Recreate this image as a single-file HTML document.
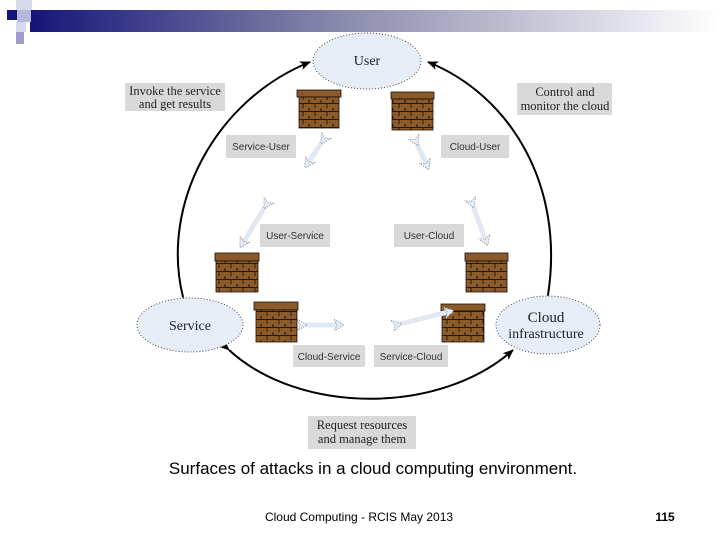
<!DOCTYPE html>
<html><head><style>
body{margin:0;width:720px;height:540px;overflow:hidden;background:#fff}
svg{display:block}
.s{font-family:"Liberation Serif",serif;fill:#222}
.a{font-family:"Liberation Sans",sans-serif;fill:#333}
</style></head><body>
<svg width="720" height="540" viewBox="0 0 720 540" xmlns="http://www.w3.org/2000/svg">
<defs>
<linearGradient id="g" x1="0" x2="1"><stop offset="0" stop-color="#15157a"/><stop offset="0.45" stop-color="#8a8aac"/><stop offset="1" stop-color="#ffffff"/></linearGradient>
<marker id="ar" markerWidth="11" markerHeight="9" refX="10" refY="4.5" orient="auto" markerUnits="userSpaceOnUse"><path d="M0,0 L11,4.5 L0,9 L3,4.5z" fill="#000"/></marker>
<marker id="ha" markerWidth="12" markerHeight="12" refX="8" refY="6" orient="auto" markerUnits="userSpaceOnUse"><path d="M0,0 L10,6 L0,12 L3,6z" fill="#e4ecf6" stroke="#777" stroke-width="0.8" stroke-dasharray="1 1.5"/></marker>
<pattern id="br" width="12" height="8" patternUnits="userSpaceOnUse"><rect width="12" height="8" fill="#8b5a2b"/><path d="M0,7.5H12M3,0V4M9,4V8" stroke="#2a1a0a" stroke-width="1"/></pattern>
</defs>
<rect x="30" y="10" width="690" height="22" fill="url(#g)"/>
<rect x="16" y="0" width="16" height="10" fill="#d8d8ec"/>
<rect x="7" y="10" width="10" height="10" fill="#14147a"/>
<rect x="17" y="10" width="14" height="12" fill="#b8b8da"/>
<rect x="16" y="22" width="10" height="10" fill="#d8d8ec"/>
<rect x="16" y="32" width="8" height="12" fill="#9e9ecc"/>

<g fill="none" stroke="#000" stroke-width="2">
<path d="M183,297 C160,205 215,100 310,62" marker-end="url(#ar)" marker-start="url(#ar)"/>
<path d="M548,295 C565,185 510,95 428,62" marker-end="url(#ar)" marker-start="url(#ar)"/>
<path d="M229,350 C300,415 440,415 513,350" marker-end="url(#ar)" marker-start="url(#ar)"/>
</g>

<g fill="#e6edf7" stroke="#444" stroke-width="1" stroke-dasharray="1 2">
<ellipse cx="367" cy="61" rx="54" ry="28"/>
<ellipse cx="190" cy="325" rx="53" ry="27"/>
<ellipse cx="548" cy="325" rx="52" ry="29"/>
</g>
<text x="367" y="65" class="s" font-size="14" text-anchor="middle">User</text>
<text x="190" y="330" class="s" font-size="14" text-anchor="middle">Service</text>
<text x="546" y="322" class="s" font-size="15" text-anchor="middle">Cloud</text>
<text x="546" y="338" class="s" font-size="14" text-anchor="middle">infrastructure</text>

<g stroke="#1a1008" stroke-width="0.8">
<rect x="297" y="90" width="44" height="7" fill="#8b5a2b"/><rect x="299" y="97" width="40" height="31" fill="url(#br)"/>
<rect x="391" y="92" width="43" height="7" fill="#8b5a2b"/><rect x="392" y="99" width="41" height="31" fill="url(#br)"/>
<rect x="215" y="253" width="44" height="8" fill="#8b5a2b"/><rect x="216" y="261" width="42" height="31" fill="url(#br)"/>
<rect x="465" y="253" width="43" height="8" fill="#8b5a2b"/><rect x="466" y="261" width="41" height="31" fill="url(#br)"/>
<rect x="254" y="302" width="44" height="8" fill="#8b5a2b"/><rect x="256" y="310" width="41" height="32" fill="url(#br)"/>
<rect x="441" y="304" width="44" height="7" fill="#8b5a2b"/><rect x="442" y="311" width="42" height="31" fill="url(#br)"/>
</g>

<g stroke="#dfe8f3" stroke-width="5" fill="none">
<path d="M322,142 L306,166" marker-start="url(#ha)" marker-end="url(#ha)"/>
<path d="M417,144 L428,168" marker-start="url(#ha)" marker-end="url(#ha)"/>
<path d="M265,207 L241,246" marker-start="url(#ha)" marker-end="url(#ha)"/>
<path d="M473,206 L487,244" marker-start="url(#ha)" marker-end="url(#ha)"/>
<path d="M305,325 L342,325" marker-start="url(#ha)" marker-end="url(#ha)"/>
<path d="M400,324 L452,311" marker-start="url(#ha)" marker-end="url(#ha)"/>
</g>

<g fill="#d9d9d9">
<rect x="125" y="83" width="100" height="28"/>
<rect x="517" y="83" width="95" height="32"/>
<rect x="226" y="135" width="70" height="23"/>
<rect x="441" y="135" width="68" height="23"/>
<rect x="260" y="224" width="70" height="23"/>
<rect x="394" y="224" width="70" height="23"/>
<rect x="293" y="345" width="72" height="22"/>
<rect x="374" y="345" width="74" height="22"/>
<rect x="308" y="416" width="108" height="33"/>
</g>
<g class="s" font-size="12.5" text-anchor="middle">
<text x="175" y="95">Invoke the service</text><text x="175" y="108">and get results</text>
<text x="565" y="96">Control and</text><text x="565" y="110">monitor the cloud</text>
<text x="362" y="429">Request resources</text><text x="362" y="443">and manage them</text>
</g>
<g class="a" font-size="10" text-anchor="middle">
<text x="261" y="150">Service-User</text>
<text x="475" y="150">Cloud-User</text>
<text x="295" y="239">User-Service</text>
<text x="429" y="239">User-Cloud</text>
<text x="329" y="360">Cloud-Service</text>
<text x="411" y="360">Service-Cloud</text>
</g>
<text x="373" y="474" font-family="Liberation Sans,sans-serif" font-size="17" text-anchor="middle" fill="#000">Surfaces of attacks in a cloud computing environment.</text>
<text x="359" y="521" font-family="Liberation Sans,sans-serif" font-size="12" text-anchor="middle" fill="#000">Cloud Computing - RCIS  May 2013</text>
<text x="665" y="521" font-family="Liberation Sans,sans-serif" font-size="12" font-weight="bold" text-anchor="middle" fill="#000">115</text>
</svg>
</body></html>
